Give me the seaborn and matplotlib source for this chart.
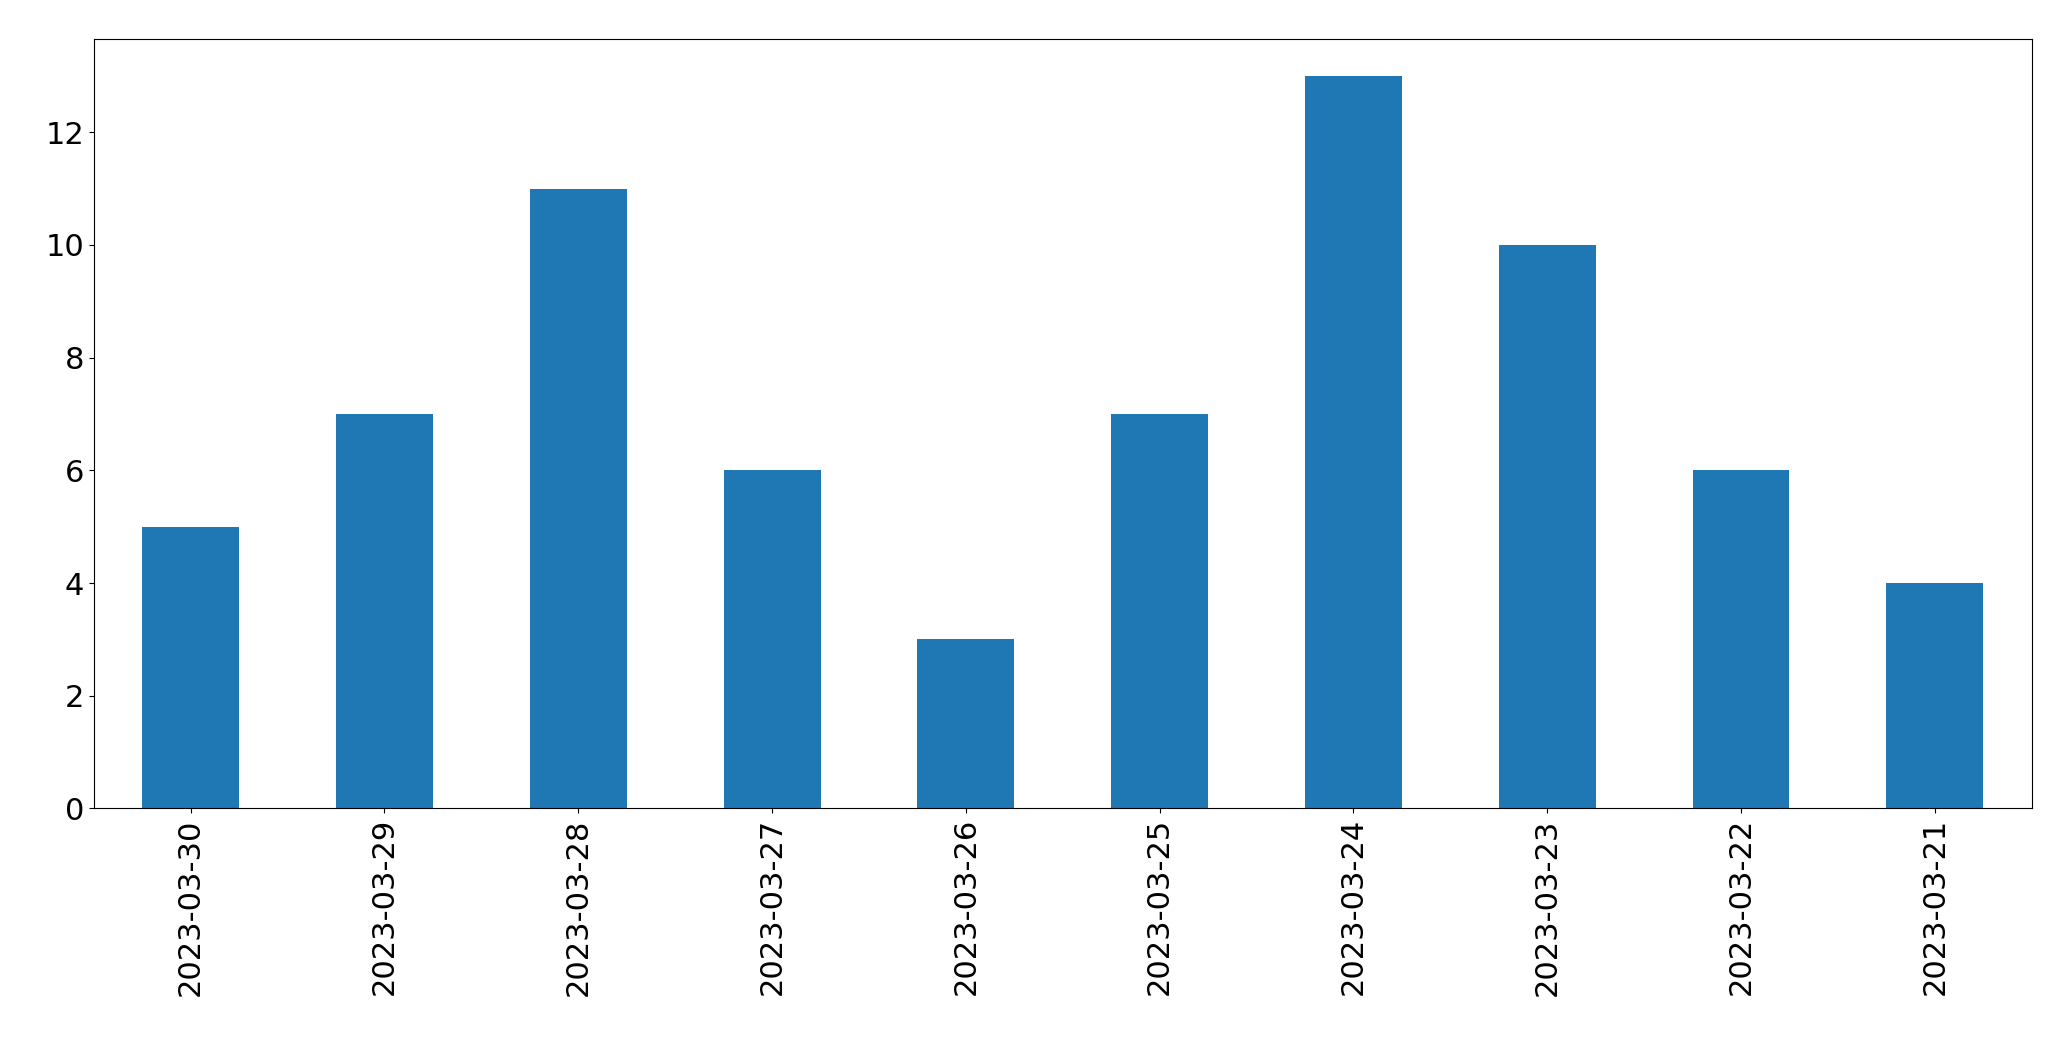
import matplotlib
matplotlib.use("Agg")
import matplotlib.pyplot as plt
import seaborn as sns
import pandas as pd

dates = ["2023-03-30", "2023-03-29", "2023-03-28", "2023-03-27", "2023-03-26",
         "2023-03-25", "2023-03-24", "2023-03-23", "2023-03-22", "2023-03-21"]
counts = [5, 7, 11, 6, 3, 7, 13, 10, 6, 4]

df = pd.DataFrame({"date": dates, "count": counts})

fig = plt.figure(figsize=(20.71, 10.61), dpi=100)
ax = fig.add_axes([0.0453, 0.238, 0.9357, 0.725])
sns.barplot(data=df, x="date", y="count", order=dates, color="#1f77b4",
            saturation=1, width=0.5, ax=ax)
ax.set_xlabel("")
ax.set_ylabel("")
ax.set_xlim(-0.5, len(dates) - 0.5)
ax.set_ylim(0, 13.65)
ax.tick_params(axis="both", labelsize=22)
ax.tick_params(axis="x", labelrotation=90)
fig.savefig("out.png", dpi=100)
